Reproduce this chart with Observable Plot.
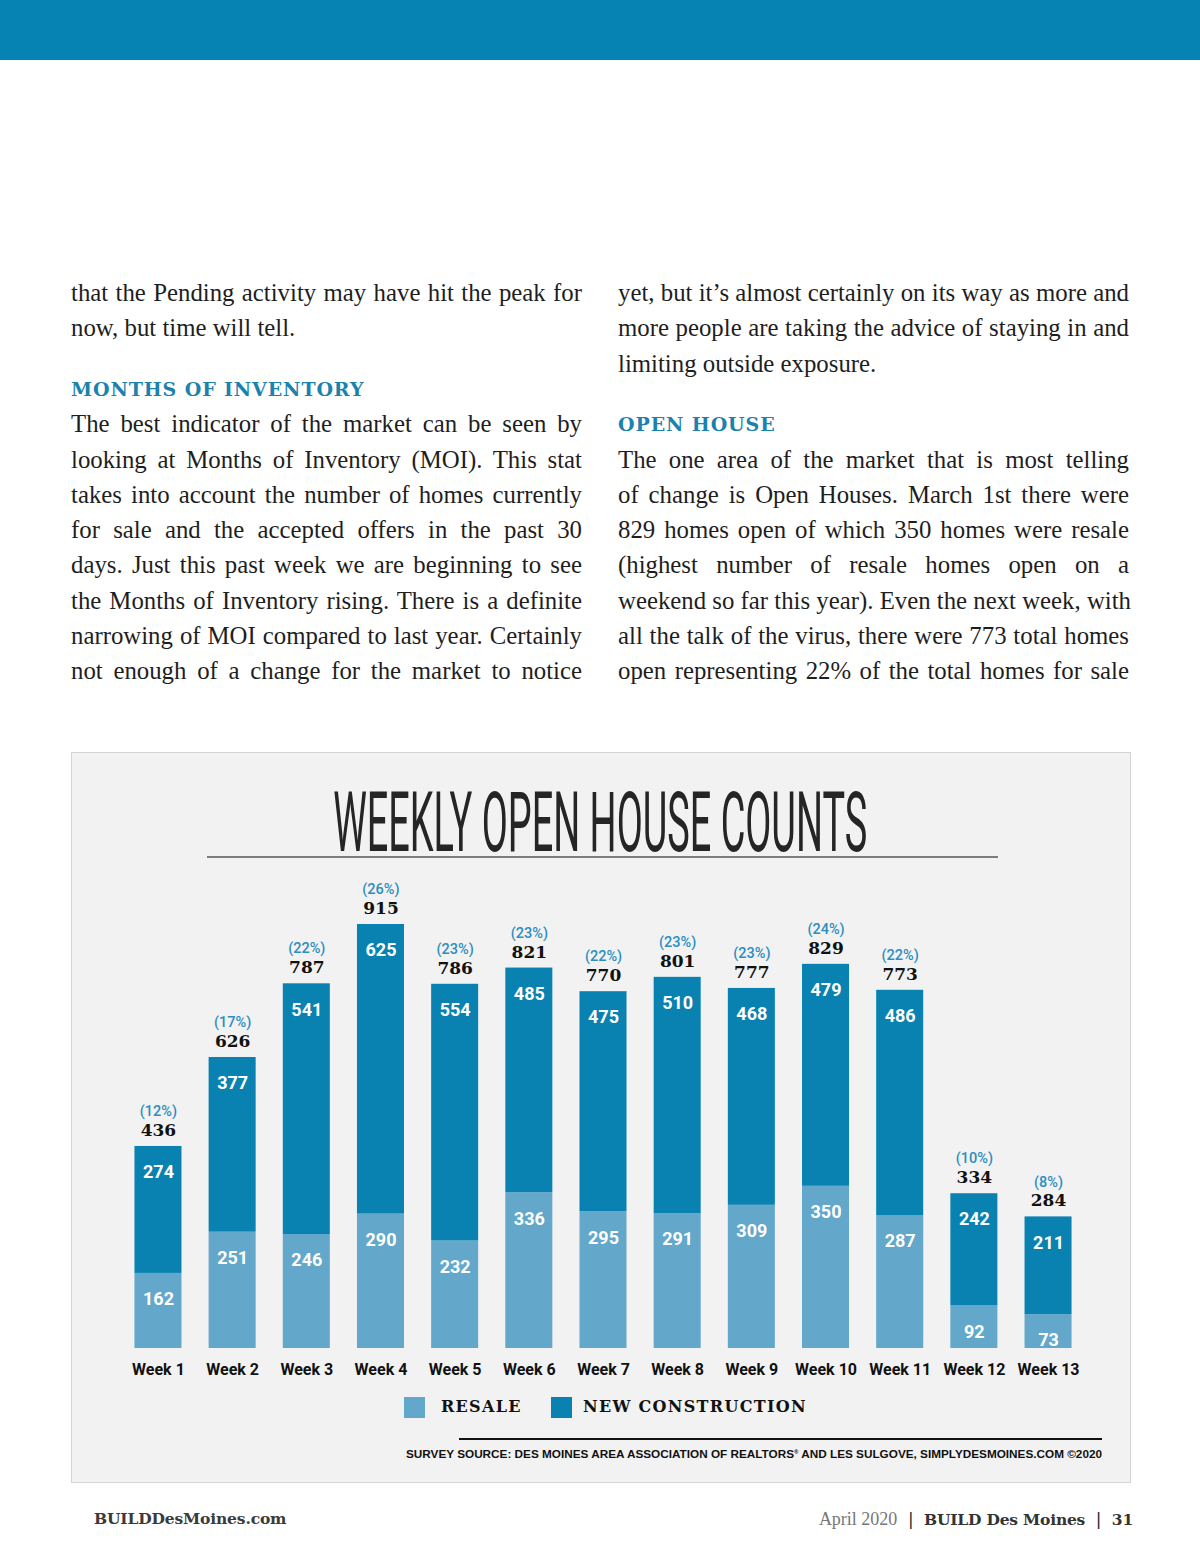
<!DOCTYPE html>
<html><head><meta charset="utf-8">
<script src="https://cdn.jsdelivr.net/npm/d3@7"></script>
<script src="https://cdn.jsdelivr.net/npm/@observablehq/plot@0.6"></script>
<style>
html,body{margin:0;padding:0;}
body{width:1200px;height:1553px;position:relative;background:#fff;overflow:hidden;}
.band{position:absolute;left:0;top:0;width:1200px;height:60px;background:#0683b3;}
.line{position:absolute;height:36px;line-height:36px;font-family:"Liberation Serif",serif;font-size:24.8px;color:#1e1e1e;white-space:nowrap;text-align:justify;text-align-last:justify;}
.l{left:71px;width:511px;}
.r{left:618px;width:511px;}
.last{text-align-last:left;}
.head{position:absolute;height:24px;line-height:24px;font-family:"DejaVu Serif",serif;font-weight:bold;color:#1a82ad;font-size:19px;letter-spacing:0.9px;white-space:nowrap;}
.panel{position:absolute;left:71px;top:752px;width:1058px;height:729px;background:#f2f2f2;border:1px solid #d4d4d4;}
.title{position:absolute;left:0;top:781px;width:1200px;text-align:center;height:84px;line-height:84px;font-family:Roboto,sans-serif;font-weight:400;font-size:84px;color:#252525;white-space:nowrap;}
.title span{display:inline-block;transform-origin:50% 50%;}
.rule{position:absolute;left:207px;top:856px;width:791px;height:2px;background:#7d7d7d;}
#chart{position:absolute;left:71px;top:870px;}
.sw{position:absolute;width:21px;height:21px;top:1397px;}
.lg{position:absolute;top:1397px;height:20px;line-height:20px;font-family:"DejaVu Serif",serif;font-weight:bold;font-size:16px;letter-spacing:1.3px;color:#111;white-space:nowrap;}
.srcrule{position:absolute;left:459px;top:1438px;width:643px;height:1.5px;background:#111;}
.src{position:absolute;right:98px;top:1445px;height:14px;line-height:14px;font-family:"Liberation Sans",Arial,sans-serif;font-weight:bold;font-size:11.75px;color:#111;white-space:nowrap;}
.src sup{font-size:6px;vertical-align:4px;}
.foot{position:absolute;top:1508px;height:22px;line-height:22px;white-space:nowrap;color:#3a3a3a;}
.fl{left:94px;font-family:"DejaVu Serif",serif;font-weight:bold;font-size:15.5px;letter-spacing:-0.15px;}
.fr{right:67px;font-size:16px;}
.fr .a{font-family:"Liberation Serif",serif;color:#777;font-size:18px;}
.fr .b{font-family:"DejaVu Serif",serif;font-weight:bold;font-size:15.5px;letter-spacing:-0.2px;color:#333;}
.fr .p{font-family:"Liberation Sans",sans-serif;color:#333;margin:0 11px;font-size:18px;}
#chart svg g[aria-label="totals"] text{letter-spacing:3px;}
</style>
</head>
<body>
<div class="band"></div>

<div class="line l" style="top:275px">that the Pending activity may have hit the peak for</div>
<div class="line l last" style="top:310px">now, but time will tell.</div>
<div class="head" style="left:71px;top:377px">MONTHS OF INVENTORY</div>
<div class="line l" style="top:406px">The best indicator of the market can be seen by</div>
<div class="line l" style="top:442px">looking at Months of Inventory (MOI). This stat</div>
<div class="line l" style="top:477px">takes into account the number of homes currently</div>
<div class="line l" style="top:512px">for sale and the accepted offers in the past 30</div>
<div class="line l" style="top:547px">days. Just this past week we are beginning to see</div>
<div class="line l" style="top:583px">the Months of Inventory rising. There is a definite</div>
<div class="line l" style="top:618px">narrowing of MOI compared to last year. Certainly</div>
<div class="line l" style="top:653px">not enough of a change for the market to notice</div>

<div class="line r" style="top:275px">yet, but it’s almost certainly on its way as more and</div>
<div class="line r" style="top:310px">more people are taking the advice of staying in and</div>
<div class="line r last" style="top:346px">limiting outside exposure.</div>
<div class="head" style="left:618px;top:412px">OPEN HOUSE</div>
<div class="line r" style="top:442px">The one area of the market that is most telling</div>
<div class="line r" style="top:477px">of change is Open Houses. March 1st there were</div>
<div class="line r" style="top:512px">829 homes open of which 350 homes were resale</div>
<div class="line r" style="top:547px">(highest number of resale homes open on a</div>
<div class="line r" style="top:583px">weekend so far this year). Even the next week, with</div>
<div class="line r" style="top:618px">all the talk of the virus, there were 773 total homes</div>
<div class="line r" style="top:653px">open representing 22% of the total homes for sale</div>

<div class="panel"></div>
<div class="title"><span id="ttl">WEEKLY OPEN HOUSE COUNTS</span></div>
<div class="rule"></div>
<div id="chart"></div>

<div class="sw" style="left:404px;background:#63a8ca"></div>
<div class="lg" style="left:441px">RESALE</div>
<div class="sw" style="left:551px;background:#0a82b1"></div>
<div class="lg" style="left:583px">NEW CONSTRUCTION</div>

<div class="srcrule"></div>
<div class="src">SURVEY SOURCE: DES MOINES AREA ASSOCIATION OF REALTORS<sup>®</sup> AND LES SULGOVE, SIMPLYDESMOINES.COM ©2020</div>

<div class="foot fl">BUILDDesMoines.com</div>
<div class="foot fr"><span class="a">April 2020</span><span class="p">|</span><span class="b">BUILD Des Moines</span><span class="p">|</span><span class="b">31</span></div>

<script>
const weeks = ["Week 1","Week 2","Week 3","Week 4","Week 5","Week 6","Week 7","Week 8","Week 9","Week 10","Week 11","Week 12","Week 13"];
const resale = [162, 251, 246, 290, 232, 336, 295, 291, 309, 350, 287, 92, 73];
const newConstruction = [274, 377, 541, 625, 554, 485, 475, 510, 468, 479, 486, 242, 211];
const totals = [436, 626, 787, 915, 786, 821, 770, 801, 777, 829, 773, 334, 284];
const shares = ["(12%)","(17%)","(22%)","(26%)","(23%)","(23%)","(22%)","(23%)","(23%)","(24%)","(22%)","(10%)","(8%)"];
const seriesNames = ["Resale","New Construction"];
const seriesColors = ["#63a8ca","#0a82b1"];

const rows = weeks.flatMap((w, i) => [
  {week: w, series: seriesNames[0], y1: 0, y2: resale[i], v: resale[i]},
  {week: w, series: seriesNames[1], y1: resale[i], y2: resale[i] + newConstruction[i], v: newConstruction[i]}
]);
const tops = weeks.map((w, i) => ({week: w, total: totals[i], share: shares[i], top: resale[i] + newConstruction[i]}));

const chart = Plot.plot({
  width: 1058, height: 530,
  marginLeft: 36.3, marginRight: 30.3, marginTop: 54, marginBottom: 52,
  x: {domain: weeks, padding: 0.366, round: false, label: null},
  y: {domain: [0, 915], axis: null},
  color: {domain: seriesNames, range: seriesColors},
  style: {background: "transparent", fontFamily: "Roboto, sans-serif", overflow: "visible"},
  marks: [
    Plot.barY(rows, {x: "week", y1: "y1", y2: "y2", fill: "series"}),
    Plot.text(rows, {x: "week", y: "y2", text: d => String(d.v), dy: 26, fill: "white", fontSize: 18, fontWeight: "bold", fontFamily: "Roboto, sans-serif"}),
    Plot.text(tops, {x: "week", y: "top", text: d => String(d.total), dy: -16, fill: "#111", fontSize: 17, fontWeight: "bold", fontFamily: "DejaVu Serif, serif", ariaLabel: "totals"}),
    Plot.text(tops, {x: "week", y: "top", text: "share", dy: -35, fill: "#2d8ec0", fontSize: 14.5, fontWeight: 500, fontFamily: "Roboto, sans-serif"}),
    Plot.axisX({tickSize: 0, tickPadding: 15, fontSize: 16, fontWeight: "bold", fill: "#111", label: null})
  ]
});
document.getElementById("chart").appendChild(chart);

// condense the title to the reference width
const t = document.getElementById("ttl");
const w0 = t.getBoundingClientRect().width;
t.style.transform = `scaleX(${534 / w0})`;
</script>
</body></html>
